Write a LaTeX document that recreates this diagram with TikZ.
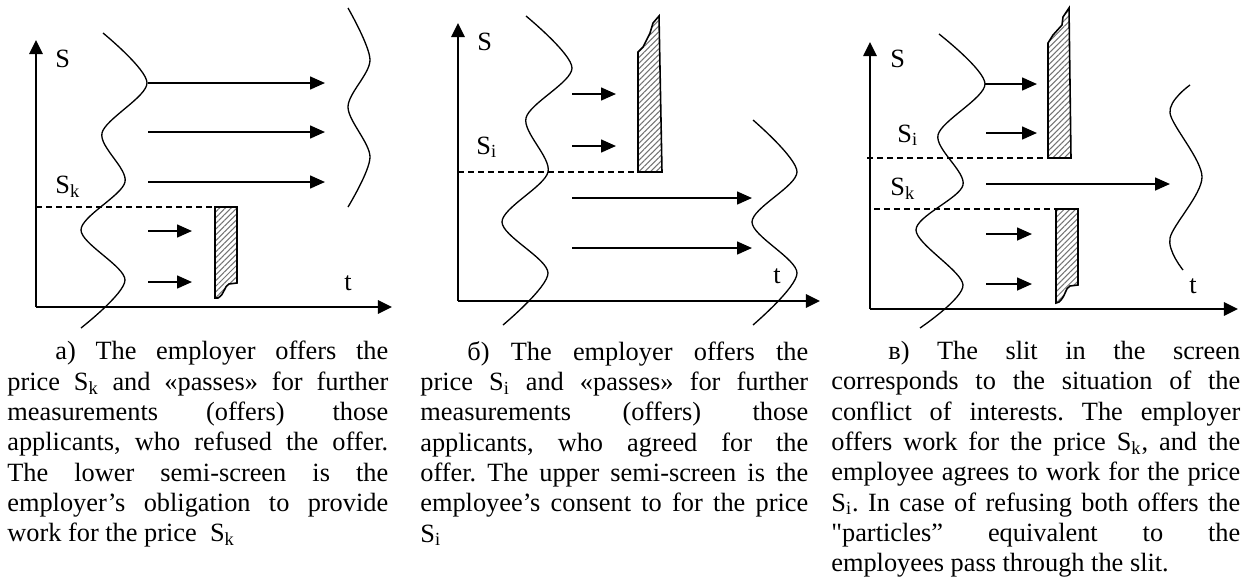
\documentclass[tikz,border=0pt]{standalone}
\usepackage{fontspec}
\setmainfont{Liberation Serif}[Ligatures=TeXOff]
\usetikzlibrary{arrows.meta,patterns.meta}
\hbadness=10000
\frenchspacing
\newcommand{\screenbox}[2]{% outline of a torn screen, options
\draw[screen,#2] #1 -- cycle;
}

\begin{document}
\begin{tikzpicture}[x=0.02cm,y=-0.02cm,
  axis/.style={line width=1.3pt,-{Triangle[length=8pt,width=7.5pt]}},
  flow/.style={line width=1.1pt,-{Triangle[length=8.5pt,width=7.3pt]}},
  wave/.style={line width=0.75pt},
  cut/.style={line width=0.6pt,dash pattern=on 3.4pt off 2.3pt},
  screen/.style={line width=0.9pt,pattern={Lines[angle=45,distance=2.3pt,line width=0.6pt]},pattern color=black!55},
  lbl/.style={inner sep=0pt,anchor=base west,font=\fontsize{15}{17}\selectfont},
  captext/.style={inner sep=0pt,anchor=north west,align=justify,font=\fontsize{15}{17.25}\selectfont}]
\useasboundingbox (0,0) rectangle (1244,582);

%%%%% a)
\draw[axis] (36,307) -- (36,40);
\draw[axis] (36,307) -- (392,307);
\node[lbl] (Sa) at (55,67) {S};
\node[lbl] (Ska) at (55,193) {S\textsubscript{k}};
\node[lbl] (ta) at (344,290) {t};
\draw[cut] (36,207) -- (215,207);
\screenbox{(215,207) -- (237,207) -- (237,283) -- (229,284) .. controls (224,286) and (225,294) .. (218,298) -- (215,298)}{}
\draw[wave] plot[smooth] coordinates {(103,33) (147,83) (102,133) (125,182) (81,230) (125,280) (81,328)};
\draw[wave] plot[smooth] coordinates {(348,8) (370,60) (348,107) (370,157) (348,207)};
\foreach \y in {83,132,182} \draw[flow] (148,\y) -- (325,\y);
\foreach \y in {231,282} \draw[flow] (148,\y) -- (192,\y);

%%%%% b)
\draw[axis] (458,301) -- (458,23);
\draw[axis] (458,301) -- (820,301);
\node[lbl] (Sb) at (477,50) {S};
\node[lbl] (Sib) at (476,154) {S\textsubscript{i}};
\node[lbl] (tb) at (773,283) {t};
\draw[cut] (458,172) -- (638,172);
\screenbox{(638,172) -- (662,172) -- (659,16) -- (653,23) -- (650,33) -- (643,47) -- (638,52)}{}
\draw[wave] plot[smooth] coordinates {(526,16) (572,68) (526,118) (548,172) (502,222) (548,273) (503,325)};
\draw[wave] plot[smooth] coordinates {(753,120) (797,172) (752,222) (797,273) (753,325)};
\foreach \y in {94,146} \draw[flow] (572,\y) -- (616,\y);
\foreach \y in {198,248} \draw[flow] (572,\y) -- (752,\y);

%%%%% c)
\draw[axis] (870,309) -- (870,42);
\draw[axis] (870,309) -- (1238,309);
\node[lbl] (Sc) at (890,67) {S};
\node[lbl] (Sic) at (897,142) {S\textsubscript{i}};
\node[lbl] (Skc) at (890,195) {S\textsubscript{k}};
\node[lbl] (tc) at (1189,293) {t};
\draw[cut] (867,158) -- (1048,158);
\draw[cut] (874,209) -- (1056,209);
\screenbox{(1048,158) -- (1071,158) -- (1069,8) -- (1063,17) -- (1062,25) -- (1053,35) -- (1048,43)}{}
\screenbox{(1056,209) -- (1078,209) -- (1078,285) -- (1070,286) .. controls (1065,288) and (1066,296) .. (1059,302) -- (1056,303)}{}
\draw[wave] plot[smooth] coordinates {(939,34) (985,84) (938,135) (963,185) (916,230) (963,285) (920,328)};
\draw[wave] plot[smooth] coordinates {(1190,85) (1170,113) (1202,177) (1170,238) (1183,270)};
\draw[flow] (985,84) -- (1037,84);
\draw[flow] (986,133) -- (1037,133);
\draw[flow] (986,184) -- (1170,184);
\foreach \y in {234,284} \draw[flow] (986,\y) -- (1032,\y);

%%%%% captions
\node[captext,text width=7.62cm] (capa) at (7,341) {\hspace*{0.96cm}a) The employer offers the\linebreak
price S\textsubscript{k} and «passes» for further\linebreak
measurements (offers) those\linebreak
applicants, who refused the offer.\linebreak
The lower semi-screen is the\linebreak
employer’s obligation to provide\linebreak
work for the price~ S\textsubscript{k}};
\node[captext,text width=7.76cm] (capb) at (420,341) {\hspace*{0.94cm}б) The employer offers the\linebreak
price S\textsubscript{i} and «passes» for further\linebreak
measurements (offers) those\linebreak
applicants, who agreed for the\linebreak
offer. The upper semi-screen is the\linebreak
employee’s consent to for the price\linebreak
S\textsubscript{i}};
\node[captext,text width=8.18cm] (capc) at (831,341) {\hspace*{1.14cm}в) The slit in the screen\linebreak
corresponds to the situation of the\linebreak
conflict of interests. The employer\linebreak
offers work for the price S\textsubscript{k}, and the\linebreak
employee agrees to work for the price\linebreak
S\textsubscript{i}. In case of refusing both offers the\linebreak
"particles” equivalent to the\linebreak
employees pass through the slit.};
\end{tikzpicture}
\end{document}
